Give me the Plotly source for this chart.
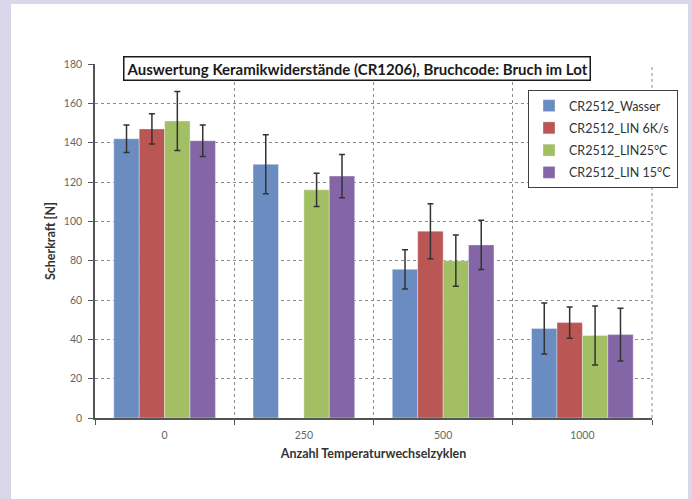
import plotly.graph_objects as go

categories = ["0", "250", "500", "1000"]
series_names = ["CR2512_Wasser", "CR2512_LIN 6K/s", "CR2512_LIN25°C", "CR2512_LIN 15°C"]
wasser = [142, 129, 75.6, 45.5]
wasser_err = [7, 15, 10, 13]
lin6k = [147, None, 95, 48.5]
lin6k_err = [7.7, None, 14, 8]
lin25 = [151, 116, 80, 42]
lin25_err = [15, 8.5, 13, 15]
lin15 = [141, 123, 88, 42.4]
lin15_err = [8, 11, 12.5, 13.4]
yticks = [0, 20, 40, 60, 80, 100, 120, 140, 160, 180]

colors = ["#6A8CC0", "#BA5653", "#A2BF63", "#8466A6"]
values = [wasser, lin6k, lin25, lin15]
errors = [wasser_err, lin6k_err, lin25_err, lin15_err]

FONT = "Lato, 'Open Sans', sans-serif"

W, H = 692, 499
L, T, R, B = 95, 64, 40, 81
PW, PH = W - L - R, H - T - B

def px_x(ax):  # page x -> paper x
    return (ax - L) / PW

def px_y(ay):  # page y -> paper y
    return (H - B - ay) / PH

fig = go.Figure()
for i, (name, v, e, c) in enumerate(zip(series_names, values, errors, colors)):
    fig.add_trace(go.Bar(
        x=categories, y=v, name=name, legendgroup=f"g{i}",
        marker=dict(color=c, line=dict(color="rgba(255,255,255,0.35)", width=1)),
        error_y=dict(type="data", array=e, visible=True, color="#333333",
                     thickness=1.5, width=3),
    ))

fig.update_layout(
    width=W, height=H,
    paper_bgcolor="#D9D7E9", plot_bgcolor="white",
    margin=dict(l=L, r=R, t=T, b=B),
    barmode="group", bargap=0.27, bargroupgap=0,
    font=dict(family=FONT, color="#555555"),
    showlegend=True,
    legend=dict(
        x=px_x(528), y=px_y(90), xanchor="left", yanchor="top",
        bgcolor="white", bordercolor="#404040", borderwidth=1,
        font=dict(family=FONT, size=12.5, color="#333333"),
        tracegroupgap=3,
    ),
    xaxis=dict(
        type="category", tickson="boundaries",
        showline=True, linecolor="#555555", linewidth=1.5,
        ticks="outside", ticklen=5, tickcolor="#555555",
        showgrid=True, gridcolor="#8a8a8a", griddash="dot", gridwidth=1,
        tickfont=dict(size=10.5, color="#666666"), ticklabelstandoff=7,
        title=dict(text="<b>Anzahl Temperaturwechselzyklen</b>",
                   font=dict(size=12.5, color="#333333"), standoff=9),
    ),
    yaxis=dict(
        range=[0, 180], tickvals=yticks,
        showline=True, linecolor="#555555", linewidth=1.5,
        ticks="outside", ticklen=5, tickcolor="#555555",
        showgrid=True, gridcolor="#8a8a8a", griddash="dot", gridwidth=1,
        zeroline=False,
        tickfont=dict(size=10.5, color="#666666"), ticklabelstandoff=4,
        title=dict(text="<b>Scherkraft [N]</b>",
                   font=dict(size=12.5, color="#333333"), standoff=5),
    ),
    shapes=[
        # white panel on the lavender page
        dict(type="rect", xref="paper", yref="paper",
             x0=px_x(11), x1=px_x(688), y0=px_y(499), y1=px_y(4),
             line=dict(width=0), fillcolor="white", layer="below"),
        dict(type="line", xref="paper", yref="paper", x0=1, x1=1, y0=0, y1=1,
             line=dict(color="#8a8a8a", width=1, dash="dot")),
    ],
    annotations=[
        dict(text="<b>Auswertung Keramikwiderstände (CR1206), Bruchcode: Bruch im Lot</b>",
             xref="paper", yref="paper", x=px_x(356.5), y=px_y(68), xanchor="center", yanchor="middle",
             showarrow=False, font=dict(family=FONT, size=15, color="#1a1a1a"),
             bgcolor="white", bordercolor="#1a1a1a", borderwidth=1.5, borderpad=2),
    ],
)

fig.write_html("out.html", config={"displayModeBar": False},
               post_script="document.body.style.margin='0';document.body.style.overflow='hidden';")
